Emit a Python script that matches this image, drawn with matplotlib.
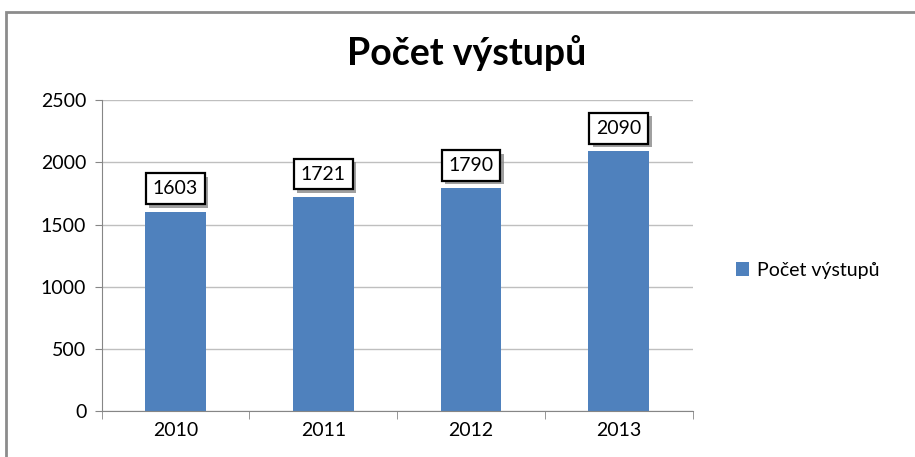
import matplotlib
matplotlib.use('Agg')
import matplotlib.pyplot as plt
import matplotlib.patheffects as pe
from matplotlib.patches import Rectangle

# data
years = ['2010', '2011', '2012', '2013']
counts = [1603, 1721, 1790, 2090]
series_name = 'Počet výstupů'

bar_col = '#4F81BD'
grid_col = '#BFBFBF'
axis_col = '#868686'

plt.rcParams['font.family'] = ['Lato', 'DejaVu Sans']

fig = plt.figure(figsize=(9.15, 4.57), dpi=100)
ax = fig.add_axes([0.111, 0.1007, 0.646, 0.680])

x = range(len(years))
bars = ax.bar(x, counts, width=0.41, color=bar_col, label=series_name, zorder=2)

ax.set_xlim(-0.5, len(years) - 0.5)
ax.set_ylim(0, 2500)
ax.set_yticks(range(0, 2501, 500))
ax.set_xticks(list(x))
ax.set_xticklabels(years)
ax.tick_params(axis='both', labelsize=14, colors='black', length=0, pad=8)
ax.tick_params(axis='y', length=5, color=axis_col, pad=6)
# category boundary ticks below axis
ax.set_xticks([i - 0.5 for i in range(len(years) + 1)], minor=True)
ax.tick_params(axis='x', which='minor', length=6, color=axis_col)
ax.yaxis.grid(True, color=grid_col, linewidth=1, zorder=0)
ax.set_axisbelow(True)
for s in ['top', 'right']:
    ax.spines[s].set_visible(False)
for s in ['left', 'bottom']:
    ax.spines[s].set_color(axis_col)

# value labels in boxes with shadow
for xi, v in zip(x, counts):
    t = ax.annotate(str(v), (xi, v), xytext=(0, 16.5), textcoords='offset points',
                    ha='center', va='center', fontsize=14, zorder=5,
                    bbox=dict(boxstyle='square,pad=0.35', fc='white', ec='black', lw=1.6))
    t.get_bbox_patch().set_path_effects([
        pe.SimplePatchShadow(offset=(2.5, -2.5), shadow_rgbFace='#888888', alpha=0.8),
        pe.Normal()])

fig.text(0.51, 0.885, series_name, ha='center', va='center', fontsize=27, fontweight='bold')

fig.legend(handles=[bars], labels=[series_name], loc='center left',
           bbox_to_anchor=(0.785, 0.409), frameon=False, fontsize=14,
           handlelength=0.7, handleheight=0.7, handletextpad=0.4)

# outer chart frame
fig.patches.append(Rectangle((6 / 915, -0.1), 1.2, 1 - 12 / 457 + 0.1,
                             transform=fig.transFigure, fill=False,
                             ec='#8C8C8C', lw=2))

fig.savefig('out.png', dpi=100)
